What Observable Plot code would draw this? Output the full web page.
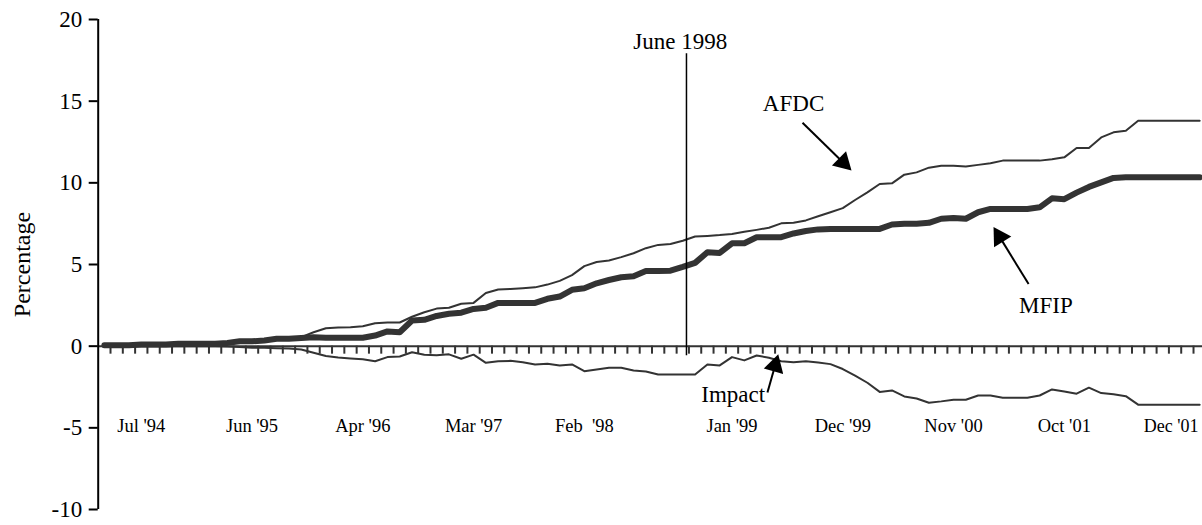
<!DOCTYPE html>
<html><head><meta charset="utf-8">
<script src="https://cdn.jsdelivr.net/npm/d3@7"></script>
<script src="https://cdn.jsdelivr.net/npm/@observablehq/plot@0.6"></script>
<style>html,body{margin:0;padding:0;background:#fff;} svg{display:block;}</style>
</head><body><div id="chart"></div>
<script>
// Monthly series, Jul '94 .. Dec '01 (90 months), in percent
const afdc = [0.05,0.05,0.05,0.1,0.1,0.1,0.15,0.15,0.15,0.15,
  0.2,0.3,0.3,0.35,0.45,0.45,0.55,0.85,1.1,1.15,
  1.16,1.22,1.4,1.45,1.45,1.8,2.08,2.3,2.35,2.6,
  2.65,3.25,3.47,3.5,3.55,3.6,3.77,4.0,4.35,4.9,
  5.15,5.25,5.45,5.69,6.0,6.2,6.25,6.45,6.71,6.75,
  6.8,6.87,7.0,7.12,7.25,7.52,7.55,7.7,7.95,8.2,
  8.45,8.95,9.42,9.93,9.97,10.5,10.64,10.93,11.05,11.05,
  11.0,11.1,11.2,11.36,11.36,11.36,11.36,11.45,11.56,12.13,
  12.13,12.78,13.09,13.19,13.8,13.8,13.8,13.8,13.8,13.8];
const mfip = [0.05,0.05,0.05,0.1,0.1,0.1,0.15,0.15,0.15,0.15,
  0.2,0.3,0.3,0.35,0.45,0.45,0.5,0.55,0.52,0.52,
  0.52,0.52,0.65,0.9,0.85,1.57,1.61,1.85,1.98,2.05,
  2.28,2.35,2.65,2.65,2.65,2.65,2.9,3.04,3.45,3.55,
  3.85,4.05,4.22,4.28,4.6,4.6,4.62,4.85,5.1,5.75,
  5.71,6.3,6.3,6.67,6.67,6.67,6.9,7.05,7.15,7.18,
  7.18,7.18,7.18,7.18,7.45,7.5,7.5,7.55,7.8,7.85,
  7.8,8.2,8.4,8.4,8.4,8.4,8.5,9.05,9.0,9.4,
  9.75,10.03,10.3,10.34,10.34,10.34,10.34,10.34,10.34,10.34];
const impact = [0,0,0,0,0,0,0,0,0,0,
  -0.02,-0.05,-0.1,-0.1,-0.12,-0.15,-0.2,-0.4,-0.6,-0.7,
  -0.75,-0.8,-0.92,-0.67,-0.63,-0.37,-0.53,-0.55,-0.5,-0.77,
  -0.52,-1.02,-0.92,-0.9,-0.98,-1.12,-1.08,-1.18,-1.12,-1.53,
  -1.43,-1.32,-1.32,-1.49,-1.55,-1.73,-1.73,-1.73,-1.73,-1.12,
  -1.18,-0.67,-0.87,-0.57,-0.71,-0.92,-0.98,-0.92,-1.0,-1.1,
  -1.4,-1.8,-2.24,-2.8,-2.71,-3.08,-3.2,-3.46,-3.38,-3.28,
  -3.28,-3.02,-3.02,-3.16,-3.16,-3.16,-3.02,-2.65,-2.77,-2.91,
  -2.54,-2.87,-2.95,-3.06,-3.58,-3.58,-3.58,-3.58,-3.58,-3.58];

const yTicks = [20, 15, 10, 5, 0, -5, -10];
const xLabelIndex = [3, 12, 21, 30, 39, 51, 60, 69, 78, 87];
const xLabels = ["Jul '94", "Jun '95", "Apr '96", "Mar '97", "Feb\u00a0 '98", "Jan '99", "Dec '99", "Nov '00", "Oct '01", "Dec '01"];

const eventX = 47.8;           // June 1998 marker (category units)
const eventTop = 17.9;
const notes = [
  {text: "June 1998", x: 47.3, y: 18.65},
  {text: "AFDC", x: 56.5, y: 14.85},
  {text: "MFIP", x: 77.0, y: 2.5},
  {text: "Impact", x: 51.6, y: -2.95}
];
const arrows = [
  {x1: 57.23, y1: 13.68, x2: 61.21, y2: 10.75},
  {x1: 75.6, y1: 3.8, x2: 72.75, y2: 7.3},
  {x1: 54.38, y1: -2.84, x2: 55.26, y2: -0.5}
];

const W = 1202, H = 525, mL = 97.7, mR = 0, mT = 19, mB = 16;
const xDomain = [0, 89.73], yDomain = [-10, 20];
const sx = (W - mL - mR) / (xDomain[1] - xDomain[0]);
const sy = (H - mT - mB) / (yDomain[1] - yDomain[0]);
const font = "'Liberation Serif', 'Times New Roman', serif";
const ink = "#333";

const rows = afdc.map((v, i) => ({x: i + 0.5, afdc: v, mfip: mfip[i], impact: impact[i]}));
const boundaries = d3.range(1, afdc.length);
const xLabelRows = xLabelIndex.map((d, i) => ({x: d + 0.5, label: xLabels[i]}));
const lastLabel = xLabelRows.length - 1;

const headR = 7.5, apex = 1.555 * headR;
const arrowMarks = arrows.flatMap(a => {
  const px = (a.x2 - a.x1) * sx, py = -(a.y2 - a.y1) * sy;
  const len = Math.hypot(px, py), ux = px / len, uy = py / len;
  const angle = Math.atan2(ux, -uy) * 180 / Math.PI;
  return [
    Plot.link([a], {x1: "x1", y1: "y1", x2: d => d.x2 - ux * apex / sx, y2: d => d.y2 + uy * apex / sy, stroke: "#000", strokeWidth: 2}),
    Plot.dot([a], {x: "x2", y: "y2", symbol: "triangle", r: headR, rotate: angle, fill: "#000", stroke: "none", dx: -ux * apex, dy: -uy * apex})
  ];
});

const chart = Plot.plot({
  width: W, height: H,
  marginLeft: mL, marginRight: mR, marginTop: mT, marginBottom: mB,
  x: {domain: xDomain, axis: null},
  y: {domain: yDomain, axis: null},
  style: {fontFamily: font, background: "#fff", color: "#000"},
  marks: [
    // zero line with monthly ticks
    Plot.ruleY([0], {x1: 0, x2: xDomain[1], stroke: ink, strokeWidth: 2}),
    Plot.ruleX(boundaries, {x: d => d, y1: 0, y2: -8 / sy, stroke: ink, strokeWidth: 2}),
    // y axis
    Plot.ruleX([0], {y1: yDomain[0], y2: yDomain[1], stroke: "#000", strokeWidth: 2}),
    Plot.ruleY(yTicks, {y: d => d, x1: -9 / sx, x2: 0, stroke: "#000", strokeWidth: 2}),
    Plot.text(yTicks, {x: 0, y: d => d, text: d => String(d), textAnchor: "end", dx: -16, fontSize: 23, fontFamily: font, fill: "#000"}),
    Plot.text(["Percentage"], {frameAnchor: "left", textAnchor: "middle", rotate: -90, dx: -76, fontSize: 24, fontFamily: font, fill: "#000"}),
    // x labels
    Plot.text(xLabelRows.slice(0, lastLabel), {x: "x", y: 0, text: "label", dy: 80, fontSize: 18.5, fontFamily: font, fill: "#000"}),
    Plot.text(xLabelRows.slice(lastLabel), {x: "x", y: 0, text: "label", dy: 80, dx: -4, fontSize: 18, fontFamily: font, fill: "#000"}),
    // series
    Plot.line(rows, {x: "x", y: "impact", stroke: ink, strokeWidth: 2}),
    Plot.line(rows, {x: "x", y: "afdc", stroke: ink, strokeWidth: 2}),
    Plot.line(rows, {x: "x", y: "mfip", stroke: ink, strokeWidth: 6}),
    // June 1998 marker
    Plot.ruleX([eventX], {y1: -8 / sy - 0.1, y2: eventTop, stroke: "#000", strokeWidth: 1.5}),
    Plot.text(notes, {x: "x", y: "y", text: "text", fontSize: 23, fontFamily: font, fill: "#000"}),
    ...arrowMarks
  ]
});
document.getElementById("chart").appendChild(chart);
</script>
</body></html>
